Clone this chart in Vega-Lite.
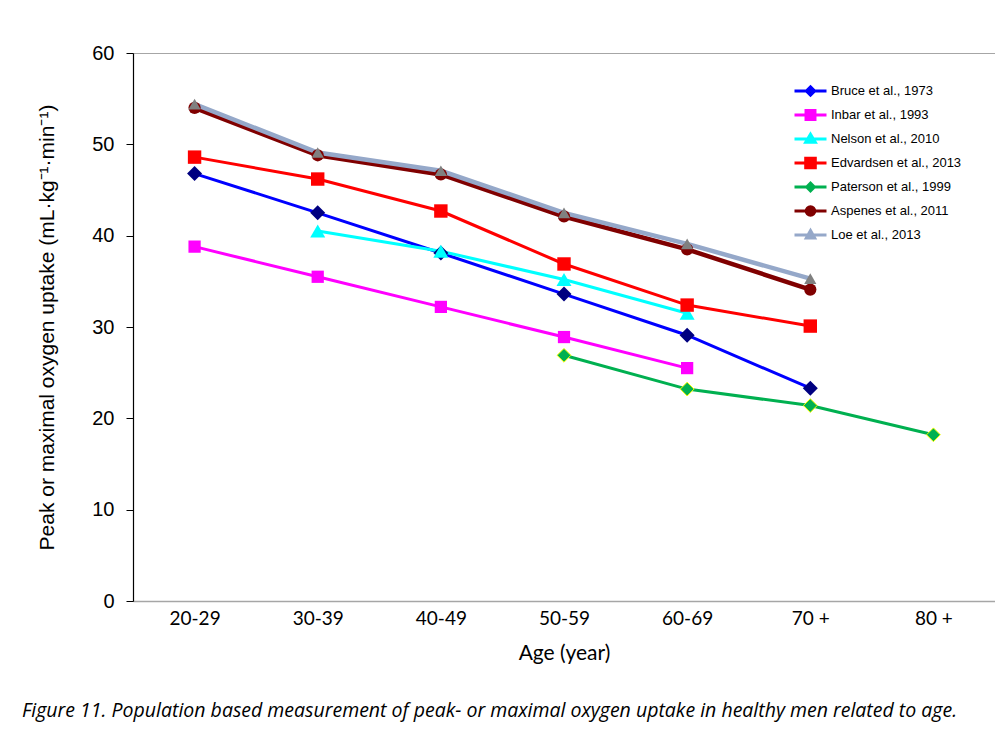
{
  "$schema": "https://vega.github.io/schema/vega-lite/v6.json",
  "autosize": {"type": "none"},
  "width": 862,
  "height": 548,
  "padding": {"left": 133, "top": 53, "right": 0, "bottom": 134},
  "background": "white",
  "config": {
    "view": {"stroke": "#a6a6a6", "strokeWidth": 1}
  },
  "title": {
    "text": "Figure 11. Population based measurement of peak- or maximal oxygen uptake in healthy men related to age.",
    "orient": "bottom",
    "anchor": "start",
    "frame": "group",
    "dx": -111,
    "offset": 39,
    "font": "Open Sans",
    "fontSize": 19.5,
    "fontStyle": "italic",
    "fontWeight": "normal",
    "color": "black"
  },
  "data": {
    "values": [
      {"study": "Bruce et al., 1973", "age": "20-29", "vo2": 46.8},
      {"study": "Bruce et al., 1973", "age": "30-39", "vo2": 42.5},
      {"study": "Bruce et al., 1973", "age": "40-49", "vo2": 38.1},
      {"study": "Bruce et al., 1973", "age": "50-59", "vo2": 33.6},
      {"study": "Bruce et al., 1973", "age": "60-69", "vo2": 29.1},
      {"study": "Bruce et al., 1973", "age": "70 +", "vo2": 23.3},
      {"study": "Inbar et al., 1993", "age": "20-29", "vo2": 38.8},
      {"study": "Inbar et al., 1993", "age": "30-39", "vo2": 35.5},
      {"study": "Inbar et al., 1993", "age": "40-49", "vo2": 32.2},
      {"study": "Inbar et al., 1993", "age": "50-59", "vo2": 28.9},
      {"study": "Inbar et al., 1993", "age": "60-69", "vo2": 25.5},
      {"study": "Nelson et al., 2010", "age": "30-39", "vo2": 40.5},
      {"study": "Nelson et al., 2010", "age": "40-49", "vo2": 38.3},
      {"study": "Nelson et al., 2010", "age": "50-59", "vo2": 35.2},
      {"study": "Nelson et al., 2010", "age": "60-69", "vo2": 31.5},
      {"study": "Edvardsen et al., 2013", "age": "20-29", "vo2": 48.6},
      {"study": "Edvardsen et al., 2013", "age": "30-39", "vo2": 46.2},
      {"study": "Edvardsen et al., 2013", "age": "40-49", "vo2": 42.7},
      {"study": "Edvardsen et al., 2013", "age": "50-59", "vo2": 36.9},
      {"study": "Edvardsen et al., 2013", "age": "60-69", "vo2": 32.4},
      {"study": "Edvardsen et al., 2013", "age": "70 +", "vo2": 30.1},
      {"study": "Paterson et al., 1999", "age": "50-59", "vo2": 26.9},
      {"study": "Paterson et al., 1999", "age": "60-69", "vo2": 23.2},
      {"study": "Paterson et al., 1999", "age": "70 +", "vo2": 21.4},
      {"study": "Paterson et al., 1999", "age": "80 +", "vo2": 18.2},
      {"study": "Aspenes et al., 2011", "age": "20-29", "vo2": 54.0},
      {"study": "Aspenes et al., 2011", "age": "30-39", "vo2": 48.8},
      {"study": "Aspenes et al., 2011", "age": "40-49", "vo2": 46.7},
      {"study": "Aspenes et al., 2011", "age": "50-59", "vo2": 42.1},
      {"study": "Aspenes et al., 2011", "age": "60-69", "vo2": 38.5},
      {"study": "Aspenes et al., 2011", "age": "70 +", "vo2": 34.1},
      {"study": "Loe et al., 2013", "age": "20-29", "vo2": 54.4},
      {"study": "Loe et al., 2013", "age": "30-39", "vo2": 49.1},
      {"study": "Loe et al., 2013", "age": "40-49", "vo2": 47.1},
      {"study": "Loe et al., 2013", "age": "50-59", "vo2": 42.5},
      {"study": "Loe et al., 2013", "age": "60-69", "vo2": 39.1},
      {"study": "Loe et al., 2013", "age": "70 +", "vo2": 35.3}
    ]
  },
  "encoding": {
    "x": {
      "field": "age",
      "type": "ordinal",
      "sort": ["20-29", "30-39", "40-49", "50-59", "60-69", "70 +", "80 +"],
      "scale": {"type": "point", "padding": 0.5, "domain": ["20-29", "30-39", "40-49", "50-59", "60-69", "70 +", "80 +"]},
      "axis": {
        "title": "Age (year)",
        "labelAngle": 0,
        "ticks": false,
        "domainColor": "#a6a6a6",
        "domainWidth": 1.5,
        "labelFont": "Lato",
        "labelFontSize": 19,
        "labelColor": "black",
        "labelPadding": 8,
        "titleFont": "Lato",
        "titleFontSize": 21,
        "titleFontWeight": "normal",
        "titleColor": "black",
        "titlePadding": 14,
        "grid": false
      }
    },
    "y": {
      "field": "vo2",
      "type": "quantitative",
      "scale": {"domain": [0, 60], "nice": false},
      "axis": {
        "title": "Peak or maximal oxygen uptake (mL·kg⁻¹·min⁻¹)",
        "values": [0, 10, 20, 30, 40, 50, 60],
        "grid": false,
        "domainColor": "black",
        "domainWidth": 1.2,
        "tickColor": "black",
        "tickSize": 7,
        "labelFont": "Liberation Sans",
        "labelFontSize": 20,
        "labelColor": "black",
        "labelPadding": 12,
        "titleFont": "Liberation Sans",
        "titleFontSize": 21,
        "titleFontWeight": "normal",
        "titleColor": "black",
        "titlePadding": 34
      }
    }
  },
  "layer": [
    {
      "mark": {"type": "line"},
      "encoding": {
        "stroke": {
          "field": "study",
          "type": "nominal",
          "scale": {
            "domain": ["Bruce et al., 1973", "Inbar et al., 1993", "Nelson et al., 2010", "Edvardsen et al., 2013", "Paterson et al., 1999", "Aspenes et al., 2011", "Loe et al., 2013"],
            "range": ["#0000ff", "#ff00ff", "#00ffff", "#ff0000", "#00b050", "#800000", "#95a8c9"]
          },
          "legend": {
            "title": null,
            "orient": "none",
            "legendX": 660,
            "legendY": 30,
            "symbolSize": 1024,
            "labelFont": "Liberation Sans",
            "labelFontSize": 13,
            "labelColor": "black",
            "labelOffset": 3,
            "rowPadding": 8,
            "clipHeight": 16,
            "encode": {
              "symbols": {
                "update": {
                  "shape": {"signal": "['M-1,0L1,0M-0.26,0L0,-0.26L0.26,0L0,0.26Z','M-1,0L1,0M-0.28,-0.28L0.28,-0.28L0.28,0.28L-0.28,0.28Z','M-1,0L1,0M0,-0.3L0.3,0.2L-0.3,0.2Z','M-1,0L1,0M-0.3,-0.3L0.3,-0.3L0.3,0.3L-0.3,0.3Z','M-1,0L1,0M-0.24,0L0,-0.24L0.24,0L0,0.24Z','M-1,0L1,0M-0.27,0A0.27,0.27 0 1,0 0.27,0A0.27,0.27 0 1,0 -0.27,0Z','M-1,0L1,0M0,-0.28L0.26,0.18L-0.26,0.18Z'][indexof(domain('stroke'), datum.value)]"},
                  "fill": {"signal": "['#000080','#ff00ff','#00ffff','#ff0000','#00b050','#800000','#808080'][indexof(domain('stroke'), datum.value)]"},
                  "stroke": {"signal": "scale('stroke', datum.value)"},
                  "strokeWidth": {"value": 3},
                  "opacity": {"value": 1}
                }
              }
            }
          }
        },
        "strokeWidth": {
          "condition": {"test": "datum.study === 'Aspenes et al., 2011' || datum.study === 'Loe et al., 2013'", "value": 4.5},
          "value": 3
        }
      }
    },
    {
      "transform": [{"filter": "datum.study === 'Bruce et al., 1973'"}],
      "mark": {"type": "point", "shape": "diamond", "size": 225, "filled": true, "fill": "#000080", "opacity": 1}
    },
    {
      "transform": [{"filter": "datum.study === 'Inbar et al., 1993'"}],
      "mark": {"type": "point", "shape": "square", "size": 150, "filled": true, "fill": "#ff00ff", "opacity": 1}
    },
    {
      "transform": [{"filter": "datum.study === 'Nelson et al., 2010'"}],
      "mark": {"type": "point", "shape": "triangle-up", "size": 225, "filled": true, "fill": "#00ffff", "opacity": 1}
    },
    {
      "transform": [{"filter": "datum.study === 'Edvardsen et al., 2013'"}],
      "mark": {"type": "point", "shape": "square", "size": 180, "filled": true, "fill": "#ff0000", "opacity": 1}
    },
    {
      "transform": [{"filter": "datum.study === 'Paterson et al., 1999'"}],
      "mark": {"type": "point", "shape": "diamond", "size": 190, "filled": true, "fill": "#00b050", "stroke": "#ffff00", "strokeWidth": 1, "opacity": 1}
    },
    {
      "transform": [{"filter": "datum.study === 'Aspenes et al., 2011'"}],
      "mark": {"type": "point", "shape": "circle", "size": 150, "filled": true, "fill": "#800000", "opacity": 1}
    },
    {
      "transform": [{"filter": "datum.study === 'Loe et al., 2013'"}],
      "mark": {"type": "point", "shape": "triangle-up", "size": 150, "filled": true, "fill": "#808080", "opacity": 1}
    }
  ]
}
